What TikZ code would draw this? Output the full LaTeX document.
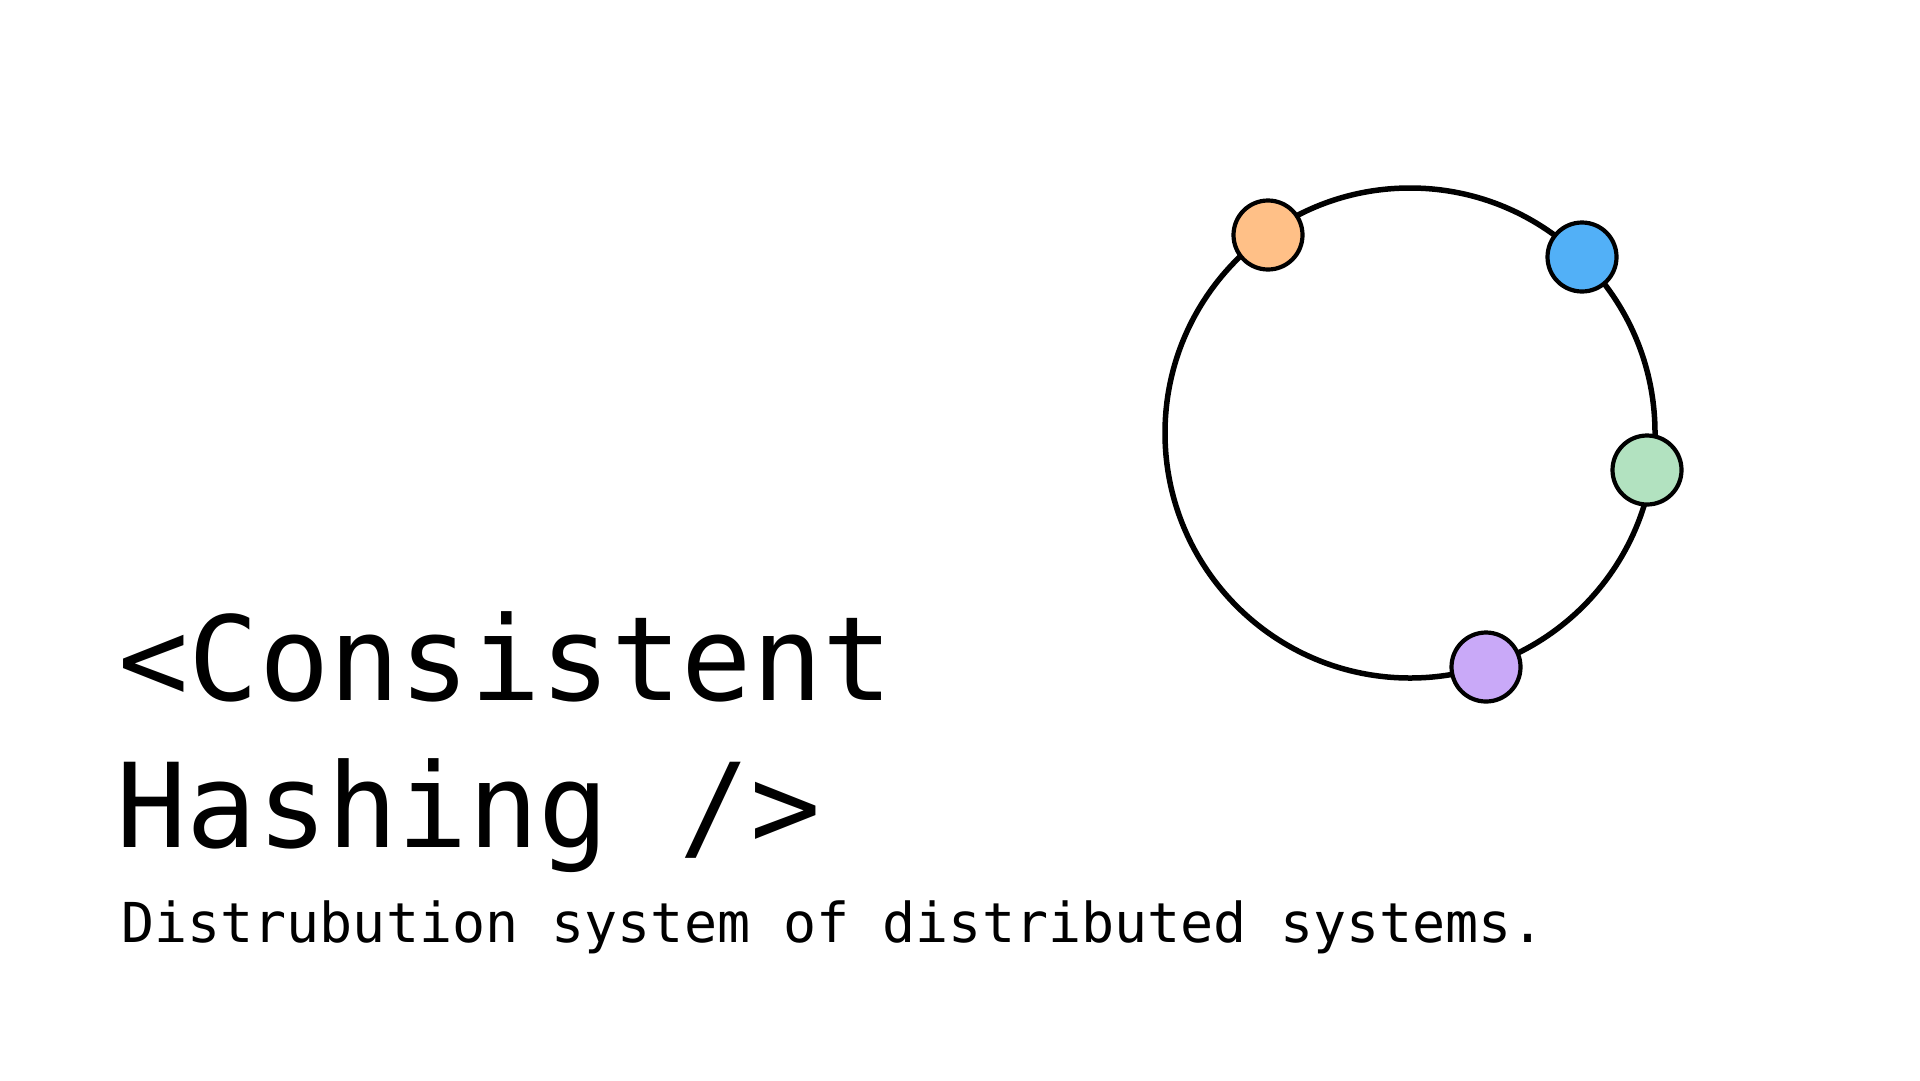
\documentclass[tikz,border=0pt]{standalone}
\usepackage{fontspec}
\newfontfamily\monofont{DejaVu Sans Mono}
\definecolor{cOrange}{HTML}{FFC087}
\definecolor{cBlue}{HTML}{52B0F7}
\definecolor{cGreen}{HTML}{B2E2C0}
\definecolor{cPurple}{HTML}{C9A9F8}
\tikzset{
  ringstyle/.style={circle, draw=black, line width=5.5pt, minimum size=490pt, inner sep=0pt},
  hashnode/.style={circle, draw=black, line width=4.2pt, minimum size=69pt, inner sep=0pt},
  titletext/.style={anchor=base west, inner sep=0pt, font=\monofont\fontsize{117}{130}\selectfont},
  subtext/.style={anchor=base west, inner sep=0pt, font=\monofont\fontsize{55}{60}\selectfont}
}
\begin{document}
\begin{tikzpicture}[x=1pt,y=-1pt]
\useasboundingbox (0,0) rectangle (1920,1080);
\fill[white] (0,0) rectangle (1920,1080);
\node[ringstyle] (ring) at (1410,433) {};
\node[hashnode, fill=cOrange] (orange) at (1268,235) {};
\node[hashnode, fill=cBlue] (blue) at (1582,257) {};
\node[hashnode, fill=cGreen] (green) at (1647,470) {};
\node[hashnode, fill=cPurple] (purple) at (1486,667) {};
\node[titletext] (title1) at (118,700) {<Consistent};
\node[titletext] (title2) at (116,847) {Hashing />};
\node[subtext] (sub) at (121,942) {Distrubution system of distributed systems.};
\end{tikzpicture}
\end{document}
